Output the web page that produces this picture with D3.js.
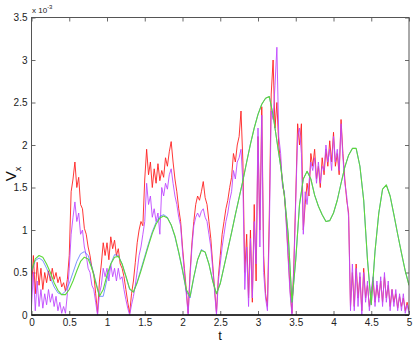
<!DOCTYPE html>
<html><head><meta charset="utf-8">
<script src="https://cdn.jsdelivr.net/npm/d3@7"></script>
<style>body{margin:0;background:#fff}svg{display:block}text{font-family:"Liberation Sans",Arial,sans-serif}</style>
</head><body><svg id="c" width="415" height="343"></svg>
<script>
// x ticks and y ticks
const xTicks = [0,0.5,1,1.5,2,2.5,3,3.5,4,4.5,5];
const yTicks = [0,0.5,1,1.5,2,2.5,3,3.5];
// smooth curves sampled at t step 0.05 (values in 1e-3)
const tSmooth = d3.range(0, 101).map(i => +(i*0.05).toFixed(3));
const green = [0.52,0.66,0.70,0.68,0.60,0.50,0.38,0.29,0.24,0.24,0.30,0.40,0.52,0.63,0.68,0.66,0.55,0.38,0.22,0.30,
0.47,0.60,0.68,0.69,0.60,0.46,0.31,0.27,0.38,0.52,0.67,0.82,0.96,1.07,1.14,1.165,1.14,1.06,0.93,0.74,
0.53,0.30,0.22,0.45,0.65,0.76,0.74,0.60,0.40,0.25,0.37,0.57,0.77,0.97,1.18,1.38,1.58,1.80,2.01,2.20,
2.36,2.48,2.55,2.57,2.35,2.05,1.75,1.40,0.95,0.15,0.65,1.30,1.60,1.69,1.60,1.41,1.28,1.18,1.10,1.11,
1.20,1.35,1.55,1.74,1.88,1.96,1.96,1.75,1.35,0.65,0.12,0.75,1.20,1.48,1.53,1.40,1.18,0.95,0.73,0.52,0.35];
const blue = [0.50,0.64,0.67,0.64,0.55,0.44,0.33,0.26,0.24,0.28,0.37,0.50,0.63,0.72,0.745,0.70,0.57,0.40,0.22,0.22,
0.42,0.60,0.71,0.70,0.60,0.45,0.30,0.27,0.39,0.54,0.69,0.84,0.98,1.09,1.16,1.18,1.15,1.06,0.92,0.73,
0.52,0.28,0.20,0.44,0.65,0.77,0.74,0.60,0.40,0.25,0.37,0.57,0.77,0.97,1.18,1.38,1.58,1.80,2.01,2.20,
2.36,2.48,2.55,2.57,2.35,2.05,1.75,1.40,0.95,0.15,0.65,1.30,1.60,1.69,1.60,1.41,1.28,1.18,1.10,1.11,
1.20,1.35,1.55,1.74,1.88,1.96,1.96,1.75,1.35,0.65,0.12,0.75,1.20,1.48,1.53,1.40,1.18,0.95,0.73,0.52,0.35];
// noisy curves sampled at t step 0.025
const tNoisy = d3.range(0, 201).map(i => +(i*0.025).toFixed(3));
const red = [0.30,0.70,0.25,0.62,0.35,0.55,0.30,0.50,0.38,0.52,0.40,0.55,0.42,0.50,0.38,0.45,0.33,0.38,0.28,0.42,
0.70,1.45,1.60,1.80,1.50,1.62,1.30,1.25,1.02,0.95,0.80,0.70,0.55,0.48,0.25,0.02,0.40,0.60,0.85,0.70,
0.85,0.65,0.92,0.78,0.88,0.70,0.78,0.60,0.55,0.45,0.30,0.15,0.02,0.25,0.40,0.62,0.85,1.00,1.10,1.05,
1.60,1.95,1.65,1.80,1.50,1.72,1.55,1.78,1.58,1.70,1.62,1.85,1.75,1.92,2.04,1.80,1.60,1.45,1.25,1.10,
0.80,0.55,0.30,0.02,0.50,0.85,1.10,1.30,1.40,1.35,1.45,1.57,1.38,1.30,1.10,0.90,0.60,0.30,0.03,0.45,
0.70,0.95,1.10,1.25,1.35,1.50,1.62,1.90,1.80,2.00,2.10,2.40,1.80,0.50,0.95,0.20,1.00,0.15,1.30,0.40,
2.10,1.00,2.45,0.70,0.25,0.10,1.20,2.60,3.00,2.20,2.50,2.00,1.80,1.55,1.40,1.10,0.70,0.30,0.02,0.60,
1.40,2.25,2.00,2.25,1.00,1.30,1.55,1.40,1.90,1.75,1.95,1.60,1.75,1.50,1.85,1.65,1.95,1.75,2.05,1.80,
2.15,1.75,1.90,1.65,2.30,1.90,1.60,1.35,1.20,0.10,0.50,0.10,0.60,0.20,0.45,0.05,0.55,0.20,0.35,0.10,
0.25,0.40,0.15,0.35,0.20,0.40,0.15,0.45,0.20,0.35,0.10,0.30,0.15,0.25,0.08,0.22,0.10,0.20,0.05,0.15,0.05];
const purple = [0.10,0.50,0.05,0.40,0.10,0.30,0.08,0.25,0.12,0.30,0.15,0.25,0.10,0.22,0.05,0.15,0.02,0.10,0.02,0.25,
0.55,0.95,1.15,1.33,1.10,1.20,0.95,1.00,0.80,0.70,0.55,0.50,0.35,0.30,0.15,0.00,0.25,0.35,0.55,0.45,
0.55,0.40,0.60,0.45,0.55,0.40,0.55,0.42,0.45,0.30,0.18,0.08,0.00,0.12,0.22,0.35,0.52,0.70,0.80,0.95,
1.10,1.55,1.30,1.40,1.15,1.25,1.10,1.20,0.95,1.50,1.40,1.55,1.48,1.65,1.72,1.55,1.40,1.30,1.15,1.05,
0.75,0.50,0.25,0.00,0.45,0.80,1.05,1.15,1.20,1.15,1.22,1.25,1.15,1.10,0.95,0.80,0.55,0.28,0.00,0.40,
0.60,0.80,0.95,1.10,1.20,1.35,1.45,1.70,1.60,1.80,1.85,1.95,1.55,0.30,0.80,0.10,0.90,0.20,1.10,0.60,
2.20,0.80,2.35,0.50,0.20,0.05,1.00,2.40,2.30,2.70,3.15,2.10,1.90,1.50,1.45,1.05,0.65,0.25,0.00,0.55,
1.35,2.10,2.20,1.90,0.95,1.45,1.30,1.55,1.80,1.70,1.85,1.55,1.80,1.55,1.75,1.70,2.00,1.80,1.95,1.70,
2.10,1.80,1.95,1.70,2.25,1.85,1.55,1.40,1.15,0.05,0.60,0.05,0.55,0.10,0.50,0.00,0.50,0.15,0.40,0.05,
0.30,0.45,0.10,0.40,0.15,0.45,0.10,0.50,0.15,0.40,0.05,0.30,0.10,0.30,0.05,0.25,0.05,0.25,0.02,0.12,0.02];

const svg = d3.select("#c");
const x = d3.scaleLinear().domain([0,5]).range([31.5,409]);
const y = d3.scaleLinear().domain([0,3.5]).range([315,17.5]);

const fmt = d => String(d);
function styleAxis(g, showText){
  g.selectAll(".domain").remove();
  g.selectAll(".tick line").attr("stroke","#444").attr("stroke-width",0.8);
  g.selectAll(".tick text").attr("fill","#222").style("font-size","10px");
  if(!showText) g.selectAll(".tick text").remove();
}
svg.append("g").attr("transform","translate(0,315)")
  .call(d3.axisBottom(x).tickValues(xTicks).tickFormat(fmt).tickSize(-4).tickPadding(4))
  .call(g=>styleAxis(g,true));
svg.append("g").attr("transform","translate(0,17.5)")
  .call(d3.axisTop(x).tickValues(xTicks).tickSize(-4)).call(g=>styleAxis(g,false));
svg.append("g").attr("transform","translate(31.5,0)")
  .call(d3.axisLeft(y).tickValues(yTicks).tickFormat(fmt).tickSize(-4).tickPadding(4))
  .call(g=>styleAxis(g,true));
svg.append("g").attr("transform","translate(409,0)")
  .call(d3.axisRight(y).tickValues(yTicks).tickSize(-4)).call(g=>styleAxis(g,false));

const clip = svg.append("clipPath").attr("id","pc").append("rect")
  .attr("x",x(0)).attr("y",y(3.5)).attr("width",x(5)-x(0)).attr("height",y(0)-y(3.5)+1);
const plot = svg.append("g").attr("clip-path","url(#pc)");
const line = d3.line().x(d=>x(d[0])).y(d=>y(d[1]));
function draw(ts, vs, color, w){
  plot.append("path").datum(ts.map((t,i)=>[t,vs[i]]))
    .attr("d",line).attr("fill","none").attr("stroke",color).attr("stroke-width",w)
    .attr("stroke-linejoin","round");
}
draw(tNoisy, red, "#ff2020", 0.9);
draw(tNoisy, purple, "#c048ff", 0.9);
draw(tSmooth, blue, "#4466ff", 0.7);
draw(tSmooth, green, "#5cd83a", 1.1);

// box
svg.append("rect").attr("x",31.5).attr("y",17.5).attr("width",409-31.5).attr("height",315-17.5)
  .attr("fill","none").attr("stroke","#555").attr("stroke-width",1);
svg.append("line").attr("x1",31.5).attr("x2",409).attr("y1",315).attr("y2",315)
  .attr("stroke","#111").attr("stroke-width",1.5);

// exponent label
const ex = svg.append("text").attr("x",32).attr("y",13).attr("fill","#222").style("font-size","8px");
ex.append("tspan").text("x 10");
ex.append("tspan").attr("dy",-4).style("font-size","6px").text("-3");
// axis labels
svg.append("text").attr("x",220).attr("y",339.5).attr("text-anchor","middle").attr("fill","#111")
  .style("font-size","13px").text("t");
const yl = svg.append("text").attr("transform","translate(16,174) rotate(-90)").attr("text-anchor","middle")
  .attr("fill","#111").style("font-size","15px");
yl.append("tspan").text("V");
yl.append("tspan").attr("dy",5).style("font-size","9px").text("x");
</script></body></html>
